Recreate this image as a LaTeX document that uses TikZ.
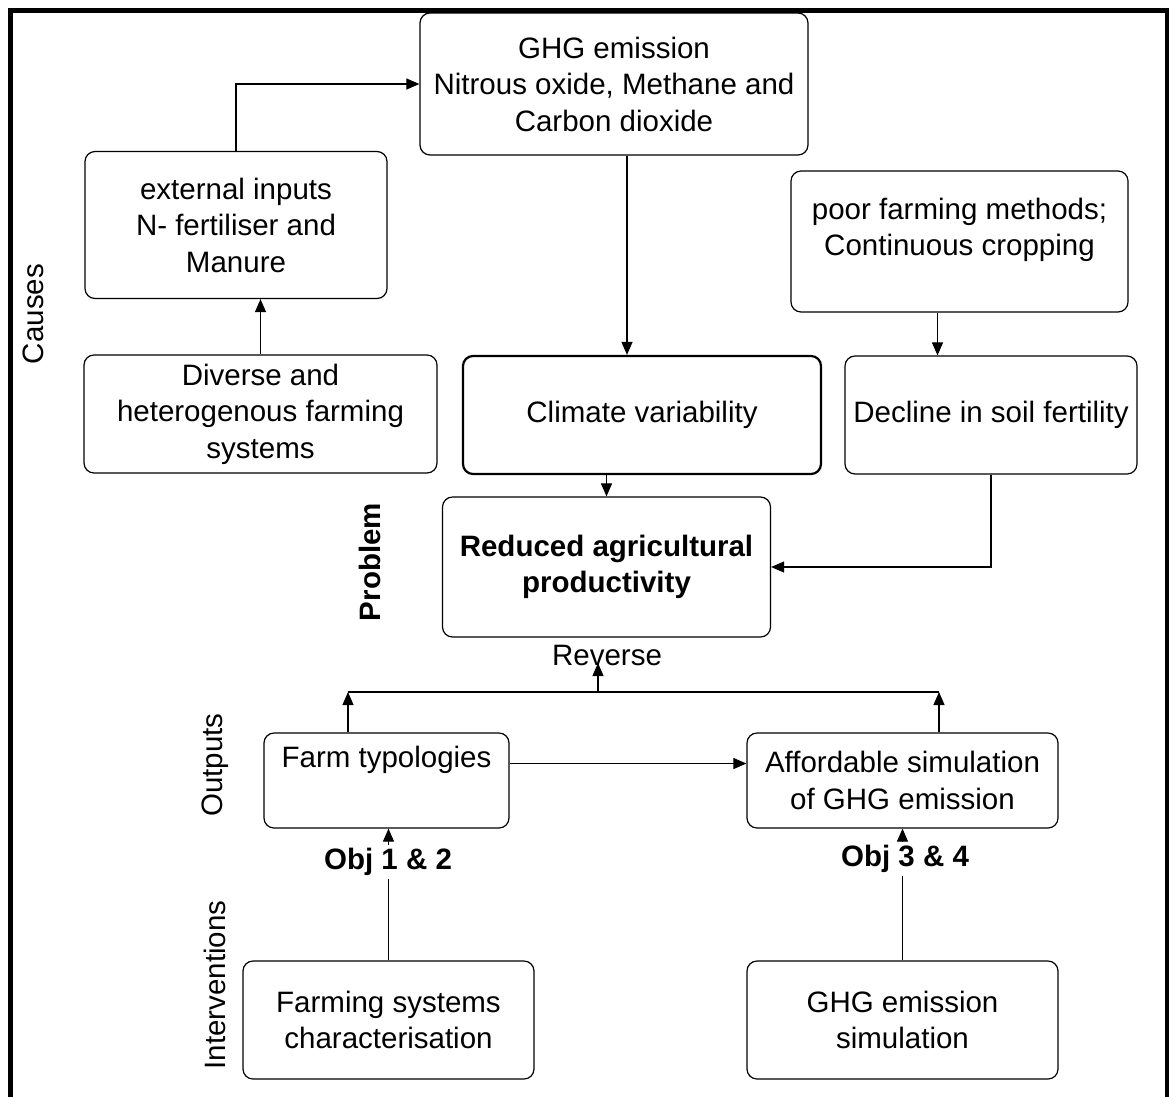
\documentclass[tikz,border=0pt]{standalone}
\usepackage{fontspec}
\setmainfont{Liberation Sans}
\usetikzlibrary{arrows.meta,calc}
\begin{document}
\begin{tikzpicture}[x=1pt,y=-1pt,
  txt/.style={font=\fontsize{29.5}{36.5}\selectfont, align=center, inner sep=0pt},
  box/.style={txt, draw, rounded corners=10pt, line width=1.2pt},
  conn/.style={line width=1.1pt, -{Triangle[length=13pt,width=11pt]}},
  plainline/.style={line width=1.1pt},
]
\useasboundingbox (0,0) rectangle (1172,1096);
% frame
\draw[line width=4.8pt] (10.5,1100) -- (10.5,10.5) -- (1167,10.5) -- (1167,1100);

% boxes
\node[box, minimum width=388pt, minimum height=142pt] (ghg) at (614,84) {GHG emission\\Nitrous oxide, Methane and\\Carbon dioxide};
\node[box, minimum width=302pt, minimum height=147pt] (ext) at (236,225) {external inputs\\N- fertiliser and\\Manure};
\node[box, minimum width=353pt, minimum height=118pt] (div) at (260.5,414) {Diverse and\\heterogenous farming\\systems};
\node[box, minimum width=337pt, minimum height=141pt] (poor) at (959.5,241.5) {};
\node[txt] (poort) at (959.5,230) {poor farming methods;\\Continuous cropping};
\node[box, line width=2.2pt, minimum width=358pt, minimum height=118pt] (clim) at (642,415) {Climate variability};
\node[box, minimum width=292pt, minimum height=118pt] (dec) at (991,415) {Decline in soil fertility};
\node[box, minimum width=328pt, minimum height=140pt, font=\fontsize{29.5}{36.5}\selectfont\bfseries] (red) at (606.5,567) {Reduced agricultural\\productivity};
\node[box, minimum width=245pt, minimum height=95pt] (typ) at (386.5,780.5) {};
\node[txt] (typt) at (386.5,760) {Farm typologies};
\node[box, minimum width=311pt, minimum height=95pt] (aff) at (902.5,780.5) {Affordable simulation\\of GHG emission};
\node[box, minimum width=291pt, minimum height=118pt] (farm) at (388.5,1020) {Farming systems\\characterisation};
\node[box, minimum width=311pt, minimum height=118pt] (sim) at (902.5,1020) {GHG emission\\simulation};

% side labels
\node[txt, rotate=90] (causes) at (33,314) {Causes};
\node[txt, rotate=90, font=\fontsize{29.5}{36.5}\selectfont\bfseries] (problem) at (370,562) {Problem};
\node[txt, rotate=90] (outputs) at (215,765) {Outputs};
\node[txt, rotate=90] (interv) at (215,985) {Interventions};

% connectors
\draw[conn] (ext.north) |- (ghg.west);
\draw[conn] (div.north) -- (div.north |- ext.south);
\draw[conn] ([xshift=13pt]ghg.south) -- ([xshift=13pt]ghg.south |- clim.north);
\draw[conn] ([xshift=-22pt]poor.south) -- ([xshift=-22pt]poor.south |- dec.north);
\draw[conn] (red.north |- clim.south) -- (red.north);
\draw[conn] (dec.south) |- (red.east);

\coordinate (jn) at (598,692);
\coordinate (jl) at (348,692);
\coordinate (jr) at (939,692);
\coordinate (rtip) at (598,663);
\draw[plainline] (jl) -- (jr);
\draw[conn] (typ.north -| jl) -- (jl);
\draw[conn] (aff.north -| jr) -- (jr);
\node[txt] (rev) at (607,655) {Reverse};
\draw[conn] (jn) -- (rtip);

\draw[conn] ([yshift=17pt]typ.east) -- ([yshift=17pt]typ.east -| aff.west);
\draw[conn] (farm.north) -- (farm.north |- typ.south);
\draw[conn] (sim.north) -- (sim.north |- aff.south);
\node[txt, fill=white, inner sep=3pt, font=\fontsize{29.5}{36.5}\selectfont\bfseries] (obj12) at (388,862) {Obj 1 \& 2};
\node[txt, fill=white, inner sep=3pt, font=\fontsize{29.5}{36.5}\selectfont\bfseries] (obj34) at (905,859) {Obj 3 \& 4};
\end{tikzpicture}
\end{document}
